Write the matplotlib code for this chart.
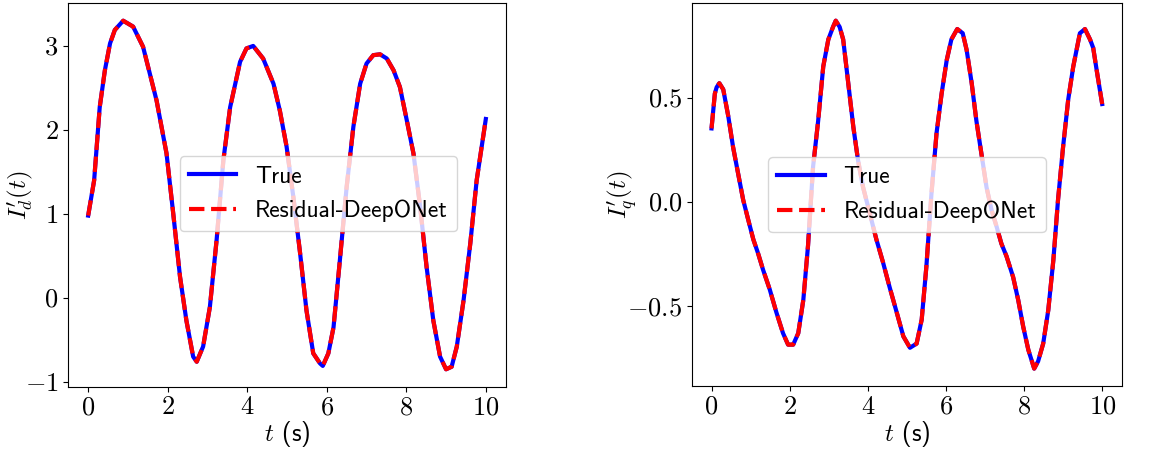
import matplotlib
matplotlib.use("Agg")
import matplotlib.pyplot as plt
from matplotlib.ticker import FormatStrFormatter

plt.rcParams["mathtext.fontset"] = "cm"
plt.rcParams["font.family"] = ["cmss10", "DejaVu Sans"]

# digitized I'_d(t)
t_d = [0.0, 0.15, 0.29, 0.42, 0.55, 0.67, 0.88, 1.13, 1.38, 1.72, 1.97, 2.14, 2.31,
       2.47, 2.64, 2.73, 2.89, 3.06, 3.23, 3.40, 3.57, 3.82, 3.98, 4.15, 4.40, 4.66,
       4.82, 4.99, 5.16, 5.33, 5.49, 5.66, 5.83, 5.90, 6.04, 6.17, 6.33, 6.50, 6.67,
       6.84, 7.00, 7.17, 7.34, 7.51, 7.68, 7.84, 8.01, 8.18, 8.35, 8.51, 8.68, 8.85,
       9.00, 9.14, 9.27, 9.44, 9.61, 9.77, 10.0]
i_d = [0.98, 1.40, 2.27, 2.71, 3.03, 3.19, 3.30, 3.23, 2.99, 2.35, 1.72, 1.00, 0.25,
       -0.27, -0.70, -0.76, -0.58, -0.11, 0.69, 1.64, 2.27, 2.81, 2.97, 3.00, 2.85, 2.55,
       2.23, 1.80, 1.20, 0.53, -0.15, -0.66, -0.78, -0.81, -0.66, -0.35, 0.45, 1.32, 2.04,
       2.55, 2.79, 2.89, 2.90, 2.85, 2.71, 2.51, 2.12, 1.72, 1.08, 0.37, -0.27, -0.70,
       -0.85, -0.82, -0.58, -0.03, 0.65, 1.40, 2.13]

# digitized I'_q(t)
t_q = [0.0, 0.085, 0.13, 0.20, 0.30, 0.43, 0.55, 0.68, 0.81, 0.94, 1.07, 1.19, 1.32,
       1.49, 1.66, 1.83, 1.96, 2.09, 2.22, 2.35, 2.47, 2.60, 2.73, 2.86, 2.99, 3.11,
       3.18, 3.28, 3.37, 3.50, 3.63, 3.75, 3.88, 4.05, 4.22, 4.39, 4.56, 4.74, 4.91,
       5.08, 5.25, 5.38, 5.50, 5.63, 5.76, 5.89, 6.02, 6.14, 6.29, 6.43, 6.53, 6.66,
       6.78, 6.91, 7.04, 7.17, 7.30, 7.42, 7.55, 7.72, 7.85, 7.98, 8.11, 8.26, 8.36,
       8.49, 8.62, 8.75, 8.87, 9.00, 9.13, 9.26, 9.43, 9.56, 9.69, 9.77, 9.87, 10.0]
i_q = [0.353, 0.52, 0.55, 0.57, 0.54, 0.41, 0.265, 0.137, 0.01, -0.086, -0.18, -0.246,
       -0.326, -0.42, -0.53, -0.63, -0.685, -0.685, -0.63, -0.47, -0.21, 0.17, 0.39,
       0.65, 0.78, 0.84, 0.87, 0.84, 0.78, 0.57, 0.36, 0.20, 0.07, -0.054, -0.18, -0.29,
       -0.41, -0.53, -0.645, -0.70, -0.68, -0.565, -0.31, 0.04, 0.33, 0.52, 0.68, 0.78,
       0.83, 0.81, 0.73, 0.57, 0.39, 0.23, 0.07, -0.04, -0.12, -0.20, -0.26, -0.36,
       -0.47, -0.60, -0.71, -0.80, -0.765, -0.68, -0.52, -0.28, 0.01, 0.265, 0.49, 0.65,
       0.81, 0.83, 0.78, 0.74, 0.62, 0.47]

fig = plt.figure(figsize=(11.64, 4.49), dpi=100)
W, H = 1164, 449
ax1 = fig.add_axes([68.3 / W, 1 - 386.7 / H, 437.4 / W, 383.4 / H])
ax2 = fig.add_axes([692 / W, 1 - 386 / H, 429.7 / W, 382.7 / H])

panels = [
    (ax1, t_d, i_d, r"$I_d'(t)$", (0.572, 0.503), r"$%d$", -0.110),
    (ax2, t_q, i_q, r"$I_q'(t)$", (0.5, 0.5), r"$%.1f$", -0.161),
]
for ax, t, y, lab, anchor, yfmt, ylx in panels:
    ax.plot(t, y, color="blue", lw=3, label="True")
    ax.plot(t, y, color="red", lw=3, ls="--", label="Residual-DeepONet")
    ax.set_xlabel(r"$t$ (s)", fontsize=18)
    ax.set_ylabel(lab, fontsize=18, va="center")
    ax.xaxis.set_label_coords(0.5, -0.085)
    ax.yaxis.set_label_coords(ylx, 0.5)
    ax.set_xticks([0, 2, 4, 6, 8, 10])
    ax.xaxis.set_major_formatter(FormatStrFormatter(r"$%d$"))
    ax.yaxis.set_major_formatter(FormatStrFormatter(yfmt))
    ax.tick_params(labelsize=19)
    ax.legend(loc="center", bbox_to_anchor=anchor, fontsize=17)

ax2.set_yticks([-0.5, 0.0, 0.5])

fig.savefig("out.png", dpi=100)
